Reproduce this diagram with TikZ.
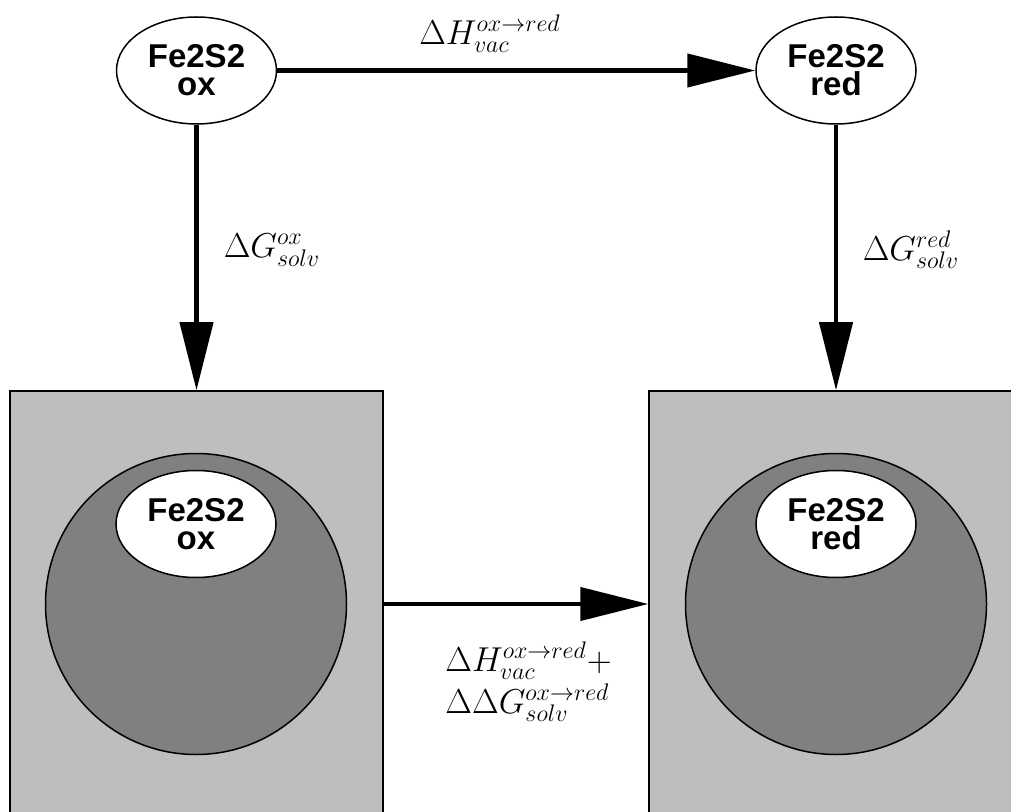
\documentclass[tikz,border=0pt]{standalone}
\usepackage{fontspec}
\newfontfamily\fefont{Liberation Sans}
\usetikzlibrary{shapes.geometric,arrows.meta}
\definecolor{boxgray}{gray}{0.745}
\definecolor{ballgray}{gray}{0.5}
\tikzset{
  mol/.style={ellipse, draw, line width=0.75pt, fill=white, minimum width=80pt, minimum height=53.5pt, inner sep=0pt, align=center, font=\fefont\bfseries\fontsize{16.5}{14}\selectfont},
  solbox/.style={rectangle, draw, line width=0.75pt, fill=boxgray, minimum width=186.5pt, minimum height=213pt, inner sep=0pt},
  ball/.style={circle, draw, line width=0.75pt, fill=ballgray, minimum size=150.5pt, inner sep=0pt},
  conn/.style={line width=2.1pt, -{Triangle[length=34pt,width=16.5pt]}},
  lab/.style={font=\fontsize{17.3}{21}\selectfont, inner sep=0pt}
}
\begin{document}
\begin{tikzpicture}[x=0.5pt,y=-0.5pt]
\useasboundingbox (0,0) rectangle (1011,812);
\clip (0,0) rectangle (1011,812);
\node[mol] (oxv) at (196.5,70.5) {Fe2S2\\ox};
\node[mol] (redv) at (836,70.5) {Fe2S2\\red};
\node[solbox] (oxbox) at (196.5,604) {};
\node[solbox, minimum width=187pt] (redbox) at (836,604) {};
\node[ball] (oxball) at (196,604) {};
\node[ball] (redball) at (836,604) {};
\node[mol] (oxs) at (196,524) {Fe2S2\\ox};
\node[mol] (reds) at (836,524) {Fe2S2\\red};
\draw[conn] (oxv) -- (redv);
\draw[conn] (oxv) -- (oxbox);
\draw[conn] (redv) -- (redbox);
\draw[conn] (oxbox) -- (redbox);
\node[lab] (lh) at (490,34) {$\Delta H_{vac}^{ox\rightarrow red}$};
\node[lab] (lgox) at (272,250) {$\Delta G_{solv}^{ox}$};
\node[lab] (lgred) at (911,250) {$\Delta G_{solv}^{red}$};
\node[lab, align=left, anchor=west] (lsum) at (445,682) {$\Delta H_{vac}^{ox\rightarrow red}+$\\$\Delta\Delta G_{solv}^{ox\rightarrow red}$};
\end{tikzpicture}
\end{document}
